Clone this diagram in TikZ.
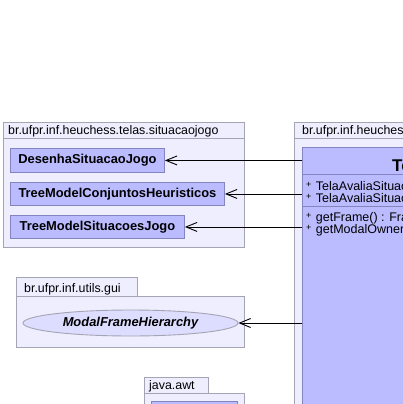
\documentclass[tikz,border=0pt]{standalone}
\usepackage{fontspec}
\setmainfont{Liberation Sans}
\usetikzlibrary{positioning,shapes.geometric,arrows.meta}

\definecolor{pkgfill}{HTML}{EEEEFF}
\definecolor{pkgline}{HTML}{A4A4B4}
\definecolor{clsfill}{HTML}{BBBBFF}
\definecolor{clsline}{HTML}{8484C0}
\definecolor{ellfill}{HTML}{DDDDFF}

\newcommand{\vis}{\raisebox{2.5pt}{\fontsize{9}{9}\selectfont +}\hspace{4.5pt}}

\begin{document}
\begin{tikzpicture}[x=1pt, y=-1pt,
    pkg style/.style={draw=pkgline, fill=pkgfill, line width=0.9pt},
    pkg label/.style={anchor=base west, inner sep=0pt, font=\fontsize{12.4}{14}\selectfont},
    class style/.style={draw=clsline, fill=clsfill, line width=0.9pt, anchor=north west,
        inner sep=0pt, font=\bfseries\fontsize{12.9}{15}\selectfont},
    member/.style={anchor=base west, inner sep=0pt, font=\fontsize{12.5}{14}\selectfont},
    dep style/.style={draw=black, line width=0.9pt, -{Straight Barb[length=11pt,width=9pt]}},]
    \useasboundingbox (0,0) rectangle (403,404);
    \clip (0,0) rectangle (403,404);

    % package situacaojogo
    \draw[style=pkg style] (3,138) rectangle (244,247);
    \draw[style=pkg style] (3,122) rectangle (244,138);
    \node[pkg label] (sitLabel) at (8,134) {br.ufpr.inf.heuchess.telas.situacaojogo};

    \node[class style, minimum width=154pt, minimum height=24pt] (desenha) at (10,148) {DesenhaSituacaoJogo};
    \node[class style, minimum width=214pt, minimum height=23pt] (treeConj) at (10,182) {TreeModelConjuntosHeuristicos};
    \node[class style, minimum width=174pt, minimum height=23pt] (treeSit) at (10,215) {TreeModelSituacoesJogo};

    % package telas.situacaojogo.avaliacao
    \draw[style=pkg style] (294,138) rectangle (700,700);
    \draw[style=pkg style] (294,122) rectangle (700,138);
    \node[pkg label] (telasLabel) at (302,134) {br.ufpr.inf.heuchess.telas.situacaojogo.avaliacao};

    \node[class style, minimum width=394pt, minimum height=500pt] (tela) at (302,147) {};
    \node[anchor=base west, inner sep=0pt, font=\bfseries\fontsize{17}{20}\selectfont] (telaTitle) at (392,171) {TelaAvaliaSituacaoJogo};
    \draw[clsline, line width=0.9pt] (tela.north west) ++(0,27) -- ++(394,0);
    \draw[clsline, line width=0.9pt] (tela.north west) ++(0,59) -- ++(394,0);
    \node[member] (cons1) at (306,190) {\vis TelaAvaliaSituacaoJogo(ModalFrameHierarchy)};
    \node[member] (cons2) at (306,202) {\vis TelaAvaliaSituacaoJogo(ModalFrameHierarchy, Object)};
    \node[member] (getFrame) at (306,221) {\vis getFrame() : Frame};
    \node[member] (getOwner) at (306,233) {\vis getModalOwner() : ModalFrameHierarchy};

    % package utils.gui
    \draw[style=pkg style] (16,296) rectangle (244,347);
    \draw[style=pkg style] (16,277) rectangle (137,296);
    \node[pkg label] (guiLabel) at (24,292) {br.ufpr.inf.utils.gui};
    \node[ellipse, draw=pkgline, fill=ellfill, line width=0.9pt, minimum width=215pt, minimum height=26pt,
        inner sep=0pt, font=\bfseries\itshape\fontsize{12.9}{15}\selectfont] (modal) at (130.5,323) {ModalFrameHierarchy};

    % package java.awt
    \draw[style=pkg style] (144,393) rectangle (244,500);
    \draw[style=pkg style] (144,377) rectangle (208,393);
    \node[pkg label] (awtLabel) at (149,389) {java.awt};
    \node[class style, minimum width=86pt, minimum height=30pt] (frame) at (151,401) {};

    \draw[style=dep style] (desenha.east -| tela.west) -- (desenha.east);
    \draw[style=dep style] (treeConj.east -| tela.west) -- (treeConj.east);
    \draw[style=dep style] (treeSit.east -| tela.west) -- (treeSit.east);
    \draw[style=dep style] (modal.east -| tela.west) -- (modal.east);

\end{tikzpicture}
\end{document}
